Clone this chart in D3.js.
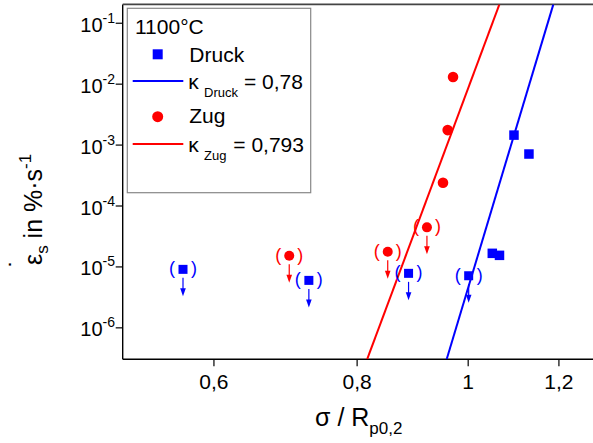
<!DOCTYPE html>
<html><head><meta charset="utf-8">
<script src="https://cdn.jsdelivr.net/npm/d3@7"></script>
<style>body{margin:0;background:#fff}svg{display:block}text{font-family:"Liberation Sans",Arial,sans-serif}</style>
</head><body>
<svg id="c" width="593" height="443"></svg>
<script>
// ---- data ----
const druckX = [1.0975, 1.131, 1.0507, 1.066];
const druckY = [1.43e-3, 7.0e-4, 1.64e-5, 1.52e-5];
const druckBrX = [0.5644, 0.7268, 0.888, 1.002];
const druckBrY = [8.95e-6, 5.9e-6, 7.7e-6, 7.03e-6];
const zugX = [0.971, 0.9606, 0.9516];
const zugY = [1.285e-2, 1.73e-3, 2.36e-4];
const zugBrX = [0.6987, 0.8516, 0.9214];
const zugBrY = [1.50e-5, 1.74e-5, 4.38e-5];
const druckFitX = [0.9587, 1.1878];
const druckFitY = [3e-7, 0.2];
const zugFitX = [0.8172, 1.0658];
const zugFitY = [3e-7, 0.2];
const xTickVals = [0.6, 0.8, 1, 1.2];
const xTickLabels = ["0,6", "0,8", "1", "1,2"];
const yTickExps = [-1, -2, -3, -4, -5, -6];
const xDomain = [0.5, 1.3];
const yDomain = [3e-7, 0.2];

const BLUE = "#0000ff", RED = "#ff0000";
const svg = d3.select("#c");
const L = 122.7, T = 4.4, B = 359.2;
const R = L + 1146 * Math.log10(xDomain[1] / xDomain[0]);
const x = d3.scaleLog().domain(xDomain).range([L, R]);
const y = d3.scaleLog().domain(yDomain).range([B, T]);

svg.append("defs").append("clipPath").attr("id", "clip")
  .append("rect").attr("x", L).attr("y", T).attr("width", R - L).attr("height", B - T);

// ---- axes ----
const xMinor = d3.range(26, 65).map(i => i * 0.02).filter(v => v > xDomain[0] + 1e-9 && v < xDomain[1] && !xTickVals.some(t => Math.abs(t - v) < 1e-6));
const yMajor = yTickExps.map(e => Math.pow(10, e));
const yMinor = [];
for (let e = -7; e <= -1; e++) for (let m = 2; m <= 9; m++) { const v = m * Math.pow(10, e); if (v >= yDomain[0] * 0.999 && v <= yDomain[1] * 1.001) yMinor.push(v); }

const xAxisMajor = d3.axisBottom(x).tickValues(xTickVals).tickSize(7).tickFormat((d, i) => xTickLabels[i]);
const xAxisMinor = d3.axisBottom(x).tickValues(xMinor).tickSize(4).tickFormat("");
const gx = svg.append("g").attr("transform", `translate(0,${B})`);
gx.call(xAxisMinor);
gx.call(xAxisMajor);
gx.selectAll("text").attr("font-size", 21).attr("dy", null).attr("y", 30.1).attr("fill", "#000");

const yAxisMajor = d3.axisLeft(y).tickValues(yMajor).tickSize(7).tickFormat("");
const yAxisMinor = d3.axisLeft(y).tickValues(yMinor).tickSize(4).tickFormat("");
const gy = svg.append("g").attr("transform", `translate(${L},0)`);
gy.call(yAxisMinor);
gy.call(yAxisMajor);
svg.selectAll(".domain").attr("stroke", "#000").attr("stroke-width", 1.4);
svg.selectAll(".tick line").attr("stroke", "#000").attr("stroke-width", 1.2);
gx.select(".domain").attr("d", `M${L},0H${R}`);
gy.selectAll(".domain").attr("d", `M0,${T}V${B}`);

// y tick labels
yTickExps.forEach(e => {
  const t = svg.append("text").attr("x", 115).attr("y", y(Math.pow(10, e)) + 9).attr("text-anchor", "end").attr("font-size", 20);
  t.append("tspan").text("10");
  t.append("tspan").attr("font-size", 14).attr("dy", -9).text("-" + (-e));
});

// top frame line
svg.append("line").attr("x1", L).attr("x2", 600).attr("y1", T).attr("y2", T).attr("stroke", "#444").attr("stroke-width", 1.6);

// axis titles
const xt = svg.append("text").attr("x", 315).attr("y", 426).attr("font-size", 25);
xt.append("tspan").text("σ / R");
xt.append("tspan").attr("font-size", 17).attr("dy", 8).text("p0,2");

const yt = svg.append("text").attr("transform", "translate(42,265) rotate(-90)").attr("font-size", 25);
yt.append("tspan").text("ε");
yt.append("tspan").attr("font-size", 17).attr("dy", 6).text("s");
yt.append("tspan").attr("dy", -6).text(" in %·s");
yt.append("tspan").attr("font-size", 17).attr("dy", -11).text("-1");
svg.append("text").attr("transform", "translate(28,267.5) rotate(-90)").attr("font-size", 25).text("˙");

// ---- plot ----
const plot = svg.append("g").attr("clip-path", "url(#clip)");
const line = d3.line().x(d => x(d[0])).y(d => y(d[1]));
plot.append("path").attr("d", line(d3.zip(zugFitX, zugFitY))).attr("stroke", RED).attr("stroke-width", 2).attr("fill", "none");
plot.append("path").attr("d", line(d3.zip(druckFitX, druckFitY))).attr("stroke", BLUE).attr("stroke-width", 2).attr("fill", "none");

const SQ = 9.5, CR = 5.3;
function square(g, cx, cy, s, c) { g.append("rect").attr("x", cx - s / 2).attr("y", cy - s / 2).attr("width", s).attr("height", s).attr("fill", c); }
function circle(g, cx, cy, r, c) { g.append("circle").attr("cx", cx).attr("cy", cy).attr("r", r).attr("fill", c); }
function bracket(g, cx, cy, c) {
  g.append("text").attr("x", cx - 11).attr("y", cy + 5).attr("text-anchor", "middle").attr("font-size", 18).attr("fill", c).text("(");
  g.append("text").attr("x", cx + 11).attr("y", cy + 5).attr("text-anchor", "middle").attr("font-size", 18).attr("fill", c).text(")");
  g.append("line").attr("x1", cx).attr("x2", cx).attr("y1", cy + 8.5).attr("y2", cy + 20).attr("stroke", c).attr("stroke-width", 1.2);
  g.append("path").attr("d", `M${cx - 2.8},${cy + 19}L${cx + 2.8},${cy + 19}L${cx},${cy + 27}Z`).attr("fill", c);
}
const marks = svg.append("g");
druckX.forEach((v, i) => square(marks, x(v), y(druckY[i]), SQ, BLUE));
zugX.forEach((v, i) => circle(marks, x(v), y(zugY[i]), CR, RED));
druckBrX.forEach((v, i) => { square(marks, x(v), y(druckBrY[i]), 9, BLUE); bracket(marks, x(v), y(druckBrY[i]), BLUE); });
zugBrX.forEach((v, i) => { circle(marks, x(v), y(zugBrY[i]), 5, RED); bracket(marks, x(v), y(zugBrY[i]), RED); });

// ---- legend ----
const lg = svg.append("g");
lg.append("rect").attr("x", 127.3).attr("y", 8.3).attr("width", 183.4).attr("height", 184.4).attr("fill", "#fff").attr("stroke", "#888").attr("stroke-width", 1.2);
lg.append("text").attr("x", 135).attr("y", 34.3).attr("font-size", 21).text("1100°C");
square(lg, 157.7, 54.3, 10, BLUE);
lg.append("text").attr("x", 189.3).attr("y", 61.7).attr("font-size", 21).text("Druck");
lg.append("line").attr("x1", 132.7).attr("x2", 183.3).attr("y1", 81).attr("y2", 81).attr("stroke", BLUE).attr("stroke-width", 2);
lg.append("text").attr("x", 188.3).attr("y", 89.3).attr("font-size", 21).text("κ");
lg.append("text").attr("x", 204).attr("y", 97.3).attr("font-size", 13).text("Druck");
lg.append("text").attr("x", 244).attr("y", 89.3).attr("font-size", 21).text("= 0,78");
circle(lg, 157.7, 116.7, 5.5, RED);
lg.append("text").attr("x", 189.3).attr("y", 123.3).attr("font-size", 21).text("Zug");
lg.append("line").attr("x1", 132.7).attr("x2", 183.3).attr("y1", 144).attr("y2", 144).attr("stroke", RED).attr("stroke-width", 2);
lg.append("text").attr("x", 188.3).attr("y", 151.7).attr("font-size", 21).text("κ");
lg.append("text").attr("x", 204).attr("y", 160).attr("font-size", 13).text("Zug");
lg.append("text").attr("x", 233.3).attr("y", 151.7).attr("font-size", 21).text("= 0,793");
</script>
</body></html>
